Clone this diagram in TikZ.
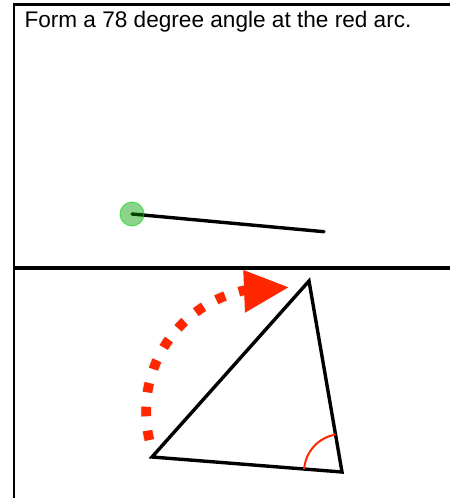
\documentclass[tikz,border=0pt]{standalone}
\usepackage{fontspec}
\setmainfont{Liberation Sans}
\begin{document}
\begin{tikzpicture}[x=1pt,y=-1pt,
  inkline/.style={draw=black,line width=3.4pt},
  redmark/.style={draw={rgb,255:red,255;green,38;blue,0}},
  redfill/.style={fill={rgb,255:red,255;green,38;blue,0}},
  shade/.style={opacity=0.22,draw=black!70,fill=black!70},
  dotted arc/.style={line width=9.5pt,dash pattern=on 9.5pt off 14.5pt}]
\path[use as bounding box] (0,0) rectangle (450,498);
\draw[line width=2.2pt] (14,498) -- (14,4.5) -- (450,4.5);
\draw[line width=3.4pt] (14,268) -- (450,268);
\node[inner sep=0pt,outer sep=0pt,anchor=base west,font=\fontsize{22.6}{27}\selectfont] (title) at (24.5,27.5) {Form a 78 degree angle at the red arc.};
\coordinate (pivot) at (132,214);
\coordinate (armEnd) at (324,231.7);
\draw[inkline,line cap=round] (pivot) -- (armEnd);
\node[circle,minimum size=24pt,inner sep=0pt,fill={rgb,255:red,0;green,160;blue,0},fill opacity=0.45,draw={rgb,255:red,0;green,215;blue,0},draw opacity=0.55,line width=1pt] (handle) at (pivot) {};
\coordinate (apexL) at (152,457);
\coordinate (apexT) at (309,281);
\coordinate (apexR) at (342,472);
\coordinate (swing) at (269.4,411.2);
\coordinate (headTop) at (243.3,270);
\coordinate (headBot) at (245,312.7);
\coordinate (headTip) at (288.3,287.3);
\begin{scope}[shift={(3,4)}]
\draw[shade,fill=none,dotted arc,line width=12pt,opacity=0.1] (swing) ++(-193.5:123.4) arc[start angle=-193.5,end angle=-100,radius=123.4];
\draw[shade,fill=none,dotted arc] (swing) ++(-193.5:123.4) arc[start angle=-193.5,end angle=-100,radius=123.4];
\fill[shade,draw=none] (headTop) -- (headTip) -- (headBot) -- cycle;
\end{scope}
\draw[redmark,dotted arc] (swing) ++(-193.5:123.4) arc[start angle=-193.5,end angle=-100,radius=123.4];
\fill[redfill] (headTop) -- (headTip) -- (headBot) -- cycle;
\draw[inkline] (apexL) -- (apexT) -- (apexR) -- cycle;
\draw[redmark,line width=2pt] (apexR) ++(-175.5:38) arc[start angle=-175.5,end angle=-99.8,radius=38];
\end{tikzpicture}
\end{document}
